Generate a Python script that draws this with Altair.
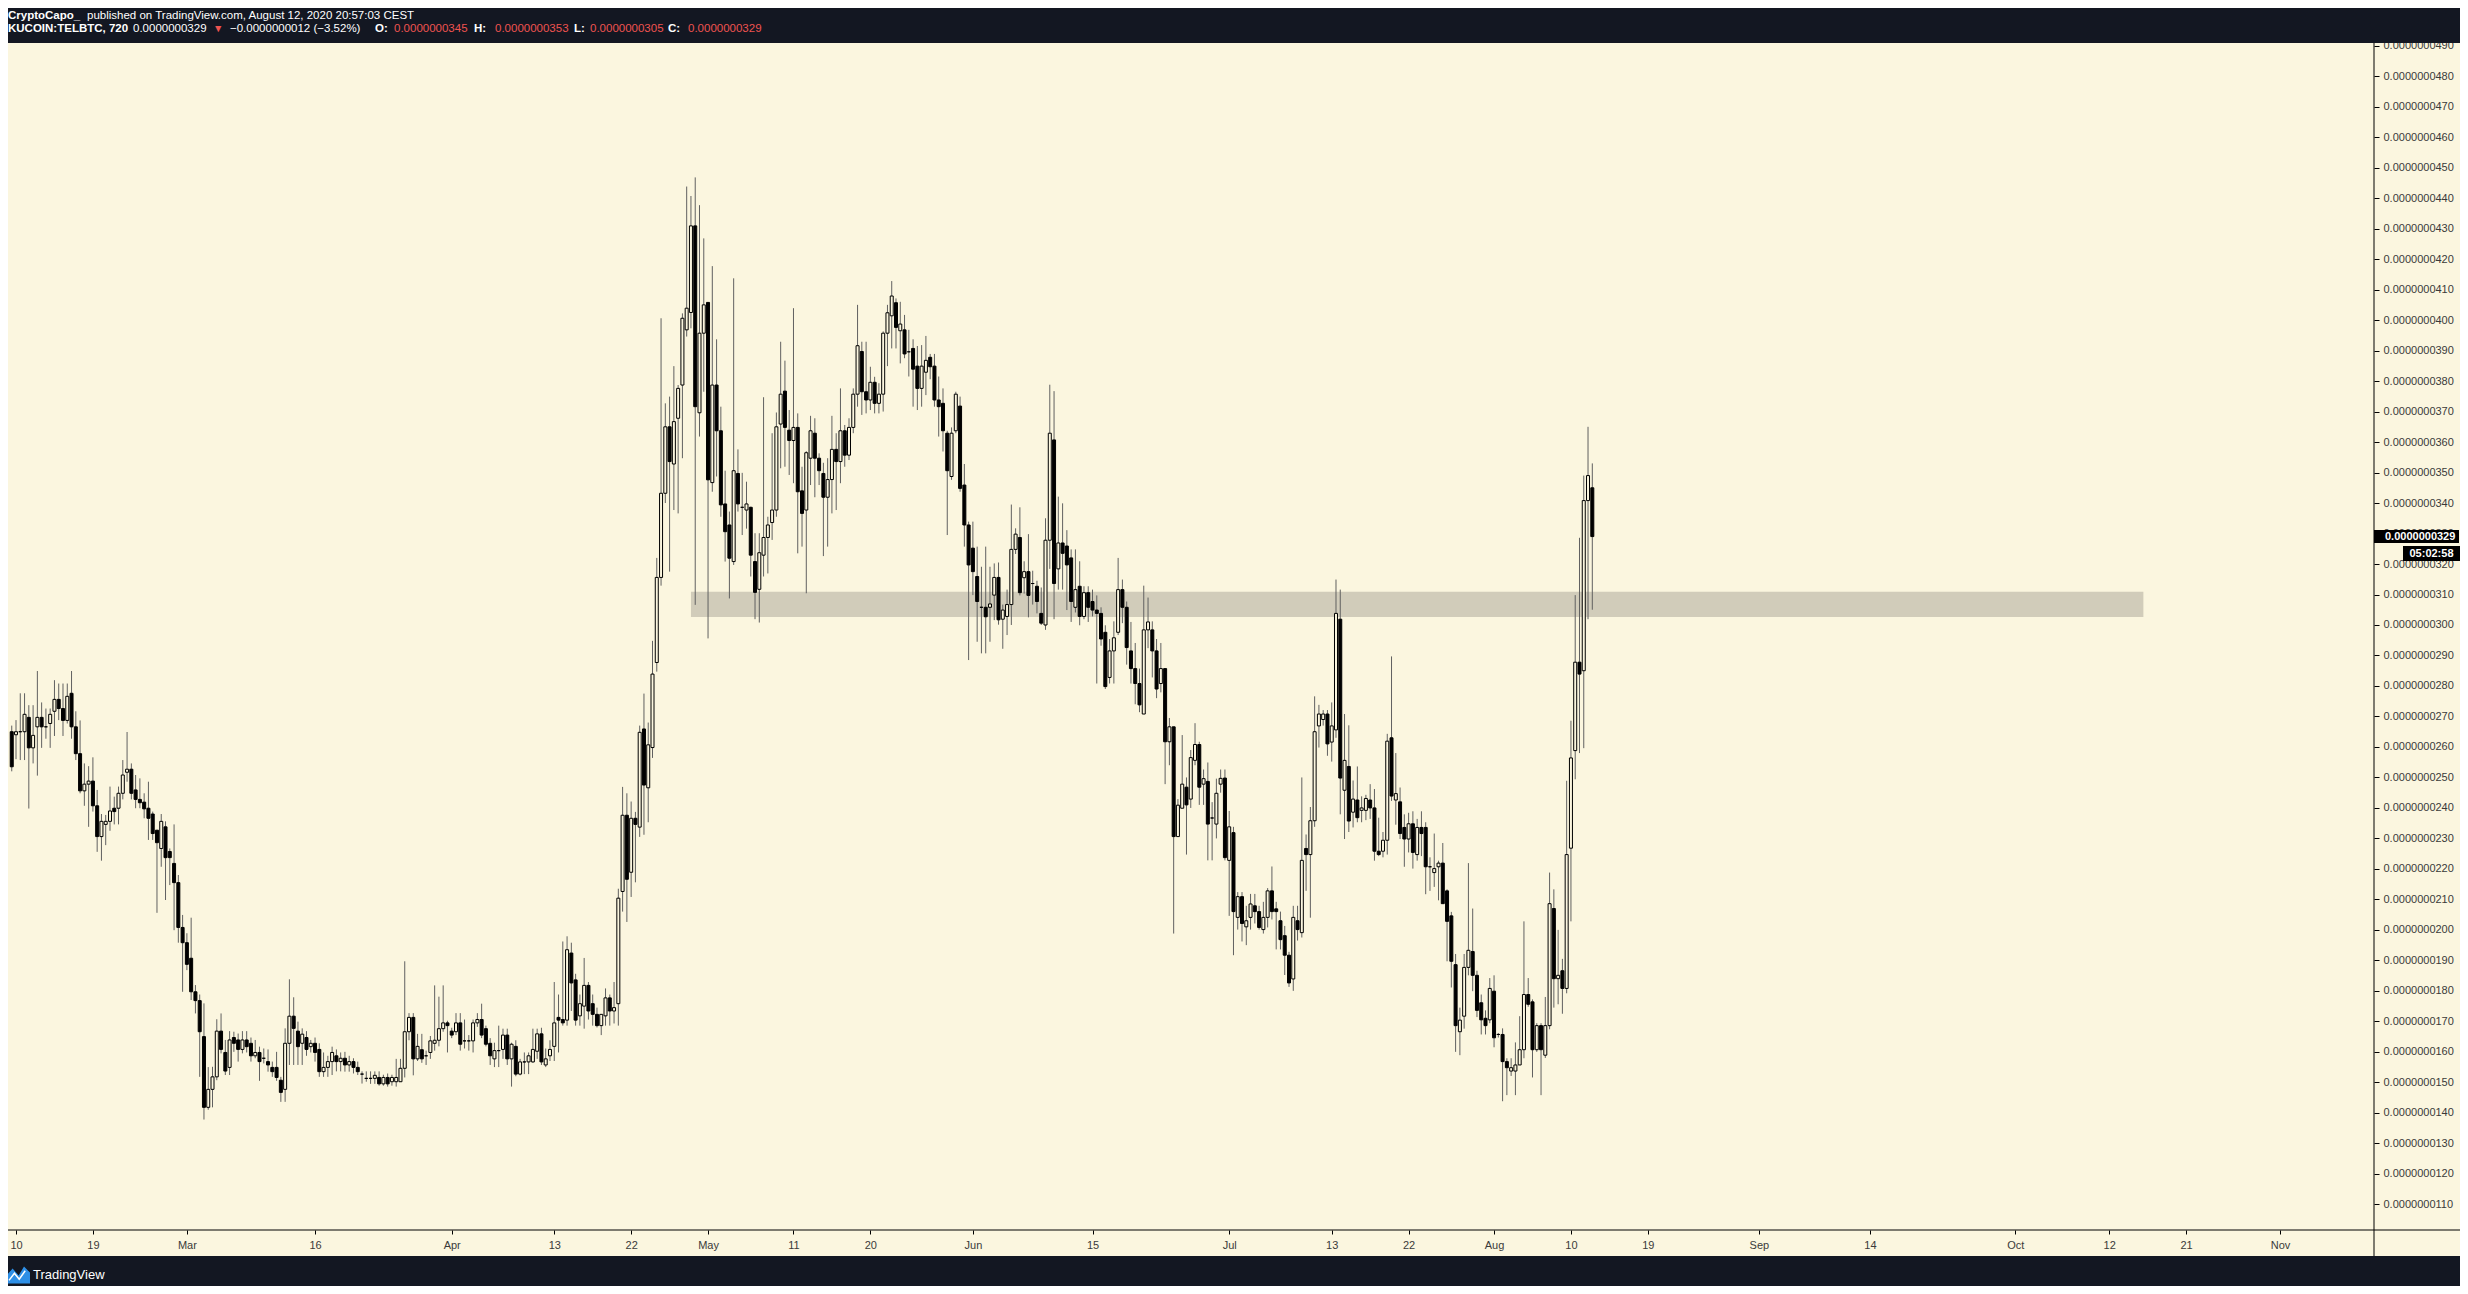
import altair as alt
import pandas as pd

# ---------------- data (prices in units of 1e-10 BTC) ----------------
candle_start = "2020-02-09 12:00"   # first 12h candle
candle_freq = "12h"

opens = [
    265, 264, 265, 265, 269.7, 259.7, 266.6, 269.7, 266.6, 267.7,
    271.7, 275.6, 272.6, 268.7, 277.6, 266.6, 257.8, 245.6, 247.8, 248.8,
    240.7, 230.6, 234.6, 235.6, 239.9, 239.9, 244.8, 251.7, 252.7, 245.9,
    242.8, 241.9, 239.9, 238, 232.7, 226.7, 233.8, 225.7, 221.8, 215.5,
    200.8, 195.8, 190.7, 179.7, 176.8, 165, 141.8, 147.7, 151.8, 166.8,
    159.8, 154.9, 164.7, 163.9, 160.8, 163.9, 162.8, 158.7, 159.8, 157.9,
    156.8, 154.9, 154.9, 150.7, 147.7, 162.8, 171.7, 166.8, 162.8, 164.7,
    161.7, 162.8, 160.8, 153.5, 154.9, 156.8, 158.7, 156.8, 157.9, 155.7,
    156.8, 154.9, 152.7, 151.3, 151.3, 151.3, 151.6, 149.5, 151.6, 150.2,
    150.2, 150.2, 154.6, 166.6, 171.3, 157.7, 160.7, 158.7, 159.8, 162.8,
    163.8, 167.6, 169.5, 166.8, 166.6, 169.5, 163.6, 163.6, 163.6, 169.5,
    170.6, 167.6, 162.8, 157.7, 160.4, 160.8, 165.5, 157.7, 161.8, 152.7,
    156.7, 156.7, 156.7, 160.2, 165.9, 155.7, 158.7, 161.8, 171.3, 170.6,
    170.4, 192.4, 183.6, 171.8, 175.0, 181.8, 175.8, 172.3, 168.6, 171.8,
    177.7, 173.4, 175.8, 212.6, 237.6, 218.9, 236.6, 233.7, 265.9, 246.6,
    259.8, 287.7, 315.6, 343.2, 365.0, 352.8, 367.8, 378.7, 396.8, 402.5,
    430.9, 369.6, 395.7, 405.8, 346.7, 378.7, 363.7, 339.7, 332.8, 320.8,
    349.7, 338.6, 337.7, 338.6, 320.8, 311.7, 322.9, 328.7, 333.6, 337.7,
    365.9, 376.7, 363.9, 360.5, 364.8, 344.0, 337.7, 354.7, 362.9, 354.7,
    349.7, 341.9, 347.7, 357.6, 353.6, 363.7, 355.7, 364.8, 375.7, 389.7,
    376.5, 373.8, 379.6, 372.7, 375.7, 395.7, 401.4, 405.7, 396.5, 396.8,
    389.6, 390.7, 384.9, 377.6, 382.9, 387.8, 384.9, 373.8, 372.7, 362.9,
    348.7, 363.7, 371.8, 345.9, 332.8, 325.2, 315.9, 305.8, 305.8, 305.8,
    309.8, 315.6, 301.9, 302.8, 306.7, 324.8, 328.7, 315.5, 317.5, 313.6,
    312.7, 303.8, 300.0, 327.8, 360.7, 318.4, 326.9, 325.9, 322.0, 305.8,
    312.7, 302.8, 310.6, 307.7, 304.9, 303.8, 297.6, 282.8, 291.5, 297.6,
    311.6, 305.8, 291.5, 285.7, 280.8, 270.8, 298.4, 298.4, 291.5, 280.8,
    285.7, 261.7, 266.6, 230.6, 239.9, 246.8, 242.9, 255.6, 260.8, 247.8,
    248.7, 236.7, 234.7, 247.8, 249.8, 222.8, 231.9, 204.1, 210.9, 201.0,
    204.1, 207.9, 206.0, 200.1, 204.1, 212.8, 206.9, 203.0, 198.1, 191.7,
    183.9, 203.0, 199.1, 226.7, 224.7, 235.8, 266.9, 269.0, 270.8, 261.6,
    265.6, 301.9, 245.8, 253.6, 238.6, 242.6, 239.2, 239.2, 242.6, 240.0,
    225.8, 225.8, 229.4, 263.0, 242.6, 242.0, 233.6, 229.8, 234.8, 224.7,
    233.6, 233.6, 220.7, 218.8, 220.7, 221.9, 212.8, 204.6, 188.6, 166.6,
    171.7, 187.7, 192.9, 185.1, 176.1, 171.0, 170.5, 179.9, 165.7, 165.7,
    156.8, 153.7, 153.7, 155.7, 160.7, 178.8, 176.4, 160.7, 168.6, 158.9,
    168.6, 207.0, 184.0, 186.6, 180.8, 226.8, 258.8, 287.8, 285.0, 340.8,
    345.0,
]

highs = [
    267, 268.8, 277.6, 277.6, 273.7, 273.7, 284.9, 274.6, 272.6, 272.6,
    281.9, 280.8, 280.8, 280.8, 284.9, 271.7, 268.7, 254.6, 253.7, 256.6,
    245.9, 238, 237.7, 247, 243.7, 247, 255.7, 264.9, 254.6, 250.8,
    249.7, 244.8, 248.6, 238.8, 232.7, 238, 235.6, 226.7, 234.6, 218,
    204.9, 198.9, 204, 181.9, 178.8, 175.9, 155, 155.1, 170.7, 172.6,
    163.9, 166.8, 166.6, 166, 166.8, 166.8, 164.7, 163.9, 161.7, 161.1,
    160.8, 156.8, 160, 151.8, 167.7, 183.8, 177.9, 169.9, 167.7, 166.8,
    163.9, 164.7, 162.8, 159.8, 158.7, 161.7, 160.8, 159.8, 160, 158.7,
    157.9, 156.8, 153.6, 153.6, 153.6, 153.6, 153.6, 152.5, 152.9, 152.5,
    157.7, 157.7, 189.7, 172.7, 172.7, 165.9, 165.9, 160.4, 165.2, 181.8,
    178.1, 181.8, 170.2, 167.9, 172.7, 172.7, 170.6, 165.5, 170.6, 172.7,
    175.8, 168.6, 164.5, 163.0, 168.6, 167.6, 167.6, 163.0, 163.8, 157.7,
    159.8, 159.8, 167.6, 167.6, 167.9, 161.1, 163.8, 182.9, 178.8, 196.2,
    197.9, 195.8, 185.6, 178.8, 190.8, 182.9, 178.8, 174.5, 172.3, 180.8,
    178.8, 182.9, 213.5, 246.9, 244.8, 242.1, 238.7, 267.0, 277.5, 268.0,
    294.8, 322.0, 400.6, 372.7, 374.9, 384.9, 378.7, 402.2, 443.8, 440.7,
    446.8, 437.7, 426.8, 405.8, 417.7, 393.7, 371.6, 350.6, 337.2, 413.7,
    357.6, 349.9, 347.0, 338.8, 330.1, 330.1, 374.7, 335.5, 362.9, 369.7,
    392.9, 386.7, 370.5, 403.9, 369.4, 351.9, 357.0, 368.6, 367.8, 356.3,
    353.2, 354.7, 368.6, 362.9, 377.6, 365.6, 367.8, 377.6, 405.0, 392.9,
    392.9, 384.7, 381.4, 379.3, 396.3, 405.0, 412.8, 407.1, 406.0, 401.7,
    396.8, 393.7, 391.5, 391.8, 394.8, 388.9, 388.9, 381.5, 377.6, 363.7,
    364.8, 376.5, 374.9, 352.8, 333.9, 333.9, 325.7, 319.1, 325.7, 319.1,
    320.2, 320.5, 306.7, 311.6, 339.5, 331.7, 338.6, 320.9, 329.8, 317.8,
    314.5, 312.3, 335.0, 378.8, 376.7, 342.1, 339.9, 331.1, 324.8, 324.8,
    320.9, 312.7, 312.7, 311.6, 309.7, 305.8, 299.9, 295.4, 301.2, 322.0,
    314.9, 307.7, 301.0, 294.1, 285.7, 312.9, 309.0, 301.2, 295.4, 294.1,
    285.7, 269.5, 266.6, 242.9, 263.9, 250.0, 259.0, 267.8, 261.7, 252.6,
    254.9, 241.9, 249.6, 252.6, 252.6, 239.0, 233.8, 212.4, 212.4, 207.9,
    211.8, 211.8, 207.9, 209.2, 213.7, 220.8, 209.2, 206.0, 201.3, 192.8,
    207.9, 207.9, 250.0, 231.3, 240.3, 276.6, 273.8, 272.1, 272.1, 274.6,
    314.9, 311.6, 270.8, 267.1, 249.0, 253.6, 243.8, 244.3, 247.8, 246.2,
    236.8, 232.1, 264.3, 289.7, 258.0, 246.7, 237.9, 238.4, 238.9, 236.4,
    238.9, 235.3, 223.8, 231.6, 222.7, 228.5, 213.3, 205.9, 192.1, 174.5,
    192.1, 221.9, 207.0, 186.6, 178.8, 173.6, 184.2, 185.1, 166.2, 167.7,
    157.9, 157.9, 163.1, 171.7, 202.8, 184.2, 177.2, 169.4, 169.4, 178.0,
    218.8, 213.3, 200.0, 190.5, 248.9, 268.6, 309.8, 328.6, 349.0, 365.0,
    353.0,
]

lows = [
    252, 256, 255.7, 255.7, 239.8, 254.6, 250.6, 259.7, 262.7, 259.7,
    263.6, 268.8, 263.6, 267.7, 262.7, 255.7, 244.8, 240.7, 233.8, 238.8,
    225.6, 222.7, 227.8, 232.5, 234.6, 234.6, 242.8, 248.6, 242.8, 239.9,
    239.9, 236.6, 229.5, 229.5, 205.6, 220.7, 209.8, 214.7, 199.9, 195.8,
    179.7, 186.8, 177, 172.6, 151.8, 137.8, 141, 141.8, 150.7, 159.5,
    152.4, 152.4, 160, 156.8, 159.5, 159.8, 156.8, 157.9, 150.5, 156.2,
    153.5, 151.8, 150.5, 143.6, 143.6, 155.7, 155.7, 155.7, 155.7, 158.7,
    159.8, 156.8, 151.8, 151.8, 151.8, 152.4, 153.6, 153.6, 153.5, 153.5,
    152.9, 152.4, 149.6, 150.2, 149.5, 149.5, 148.9, 148.9, 148.6, 148.9,
    148.6, 150.2, 151.6, 163.8, 152.3, 157.0, 156.4, 155.7, 157.7, 160.4,
    161.8, 166.6, 159.8, 164.5, 165.5, 160.4, 161.1, 160.4, 159.8, 168.2,
    164.5, 161.8, 155.7, 155.0, 155.0, 157.7, 155.7, 148.6, 152.0, 152.3,
    152.7, 152.7, 156.4, 157.7, 155.7, 155.0, 157.0, 157.0, 159.8, 168.6,
    168.6, 173.4, 168.6, 168.6, 167.6, 170.6, 168.6, 168.0, 165.5, 168.6,
    168.6, 169.3, 168.6, 206.0, 202.6, 210.8, 215.6, 230.5, 231.2, 235.3,
    256.4, 284.7, 312.9, 340.0, 317.5, 337.7, 336.6, 354.7, 394.6, 397.3,
    306.6, 361.8, 376.5, 295.6, 343.7, 348.7, 335.5, 320.8, 308.7, 319.7,
    337.2, 329.5, 331.6, 315.9, 301.9, 300.8, 315.9, 316.9, 327.9, 335.5,
    351.4, 351.9, 349.2, 346.5, 323.5, 325.7, 310.4, 345.9, 341.9, 345.9,
    322.6, 325.7, 336.6, 337.7, 346.5, 351.9, 354.1, 362.9, 371.6, 368.9,
    369.4, 370.5, 369.4, 369.4, 370.0, 384.9, 390.7, 390.7, 385.8, 387.5,
    381.5, 371.6, 370.5, 371.6, 375.4, 380.6, 371.6, 361.8, 356.9, 329.5,
    347.6, 362.9, 343.7, 325.7, 288.5, 309.8, 294.5, 290.7, 290.7, 294.5,
    301.6, 300.1, 292.2, 296.7, 300.0, 323.3, 309.7, 310.3, 302.5, 306.7,
    303.8, 300.0, 298.4, 318.4, 301.9, 311.6, 311.6, 304.9, 301.0, 304.1,
    299.9, 301.9, 301.0, 302.8, 280.8, 293.2, 279.0, 280.8, 280.8, 296.7,
    300.6, 287.0, 280.8, 274.0, 271.4, 270.8, 292.4, 282.8, 276.0, 277.9,
    247.8, 254.0, 198.8, 230.6, 239.9, 224.7, 240.0, 254.0, 241.0, 241.0,
    222.8, 222.8, 230.0, 245.0, 222.8, 204.6, 191.7, 200.1, 196.2, 195.0,
    200.1, 202.1, 200.1, 198.8, 200.8, 203.4, 193.6, 193.6, 185.2, 181.3,
    180.0, 196.5, 197.5, 212.8, 204.0, 233.8, 259.8, 267.0, 257.1, 255.2,
    263.0, 237.9, 229.8, 232.1, 233.6, 235.3, 235.3, 236.0, 236.4, 222.7,
    224.2, 223.8, 224.7, 242.3, 234.5, 229.8, 220.7, 225.4, 220.1, 222.7,
    224.2, 211.7, 212.8, 214.1, 209.7, 208.6, 189.7, 181.1, 160.0, 158.9,
    167.6, 185.1, 179.9, 171.4, 165.7, 165.7, 169.4, 161.5, 164.7, 143.8,
    145.8, 152.1, 145.8, 155.7, 157.9, 174.8, 151.6, 160.0, 145.8, 158.0,
    167.4, 174.5, 175.6, 172.5, 179.2, 202.8, 249.4, 258.0, 259.6, 301.9,
    305.0,
]

closes = [
    253.5, 265, 265, 270.7, 259.7, 263.8, 269.7, 266.6, 266.6, 270.7,
    275.6, 272.6, 268.7, 276.6, 266.6, 257.8, 245.6, 247.8, 248.8, 240.7,
    230.6, 235.6, 235.6, 239, 238.8, 244.8, 250.8, 252.7, 244.8, 242.8,
    241.7, 239.7, 236.6, 231.6, 228.6, 235.6, 223.7, 223.7, 215.5, 200.8,
    195.8, 188.7, 179.7, 176.8, 166.6, 141.8, 147.7, 151.8, 166.8, 160.8,
    153.7, 163.9, 162.8, 160.8, 163.9, 161.7, 158.7, 159.8, 156.8, 157.9,
    155.7, 153.5, 151.6, 146.7, 162.8, 171.7, 167.7, 161.7, 165.8, 160.8,
    162.8, 159.8, 153.5, 154.9, 156.8, 159.8, 156.8, 157.9, 155.7, 156.8,
    154.9, 153.5, 152.7, 151.3, 151.3, 152.3, 149.5, 151.6, 149.5, 151.6,
    151.6, 154.6, 166.6, 171.3, 157.7, 161.8, 157.7, 158.7, 163.6, 163.8,
    167.6, 169.5, 168.6, 165.5, 169.5, 162.5, 163.6, 163.6, 169.5, 170.6,
    165.5, 162.5, 158.7, 160.4, 160.4, 165.5, 157.7, 162.5, 152.7, 156.7,
    156.7, 158.7, 160.8, 165.9, 156.7, 157.7, 160.8, 169.5, 170.4, 169.5,
    193.5, 182.6, 170.4, 175.8, 181.8, 173.4, 172.3, 168.6, 172.3, 177.7,
    173.4, 174.5, 210.4, 237.6, 216.6, 236.6, 234.6, 264.8, 247.5, 260.7,
    283.9, 315.6, 343.2, 365.0, 353.6, 366.7, 377.6, 400.6, 403.9, 430.9,
    371.6, 395.7, 405.0, 347.6, 378.7, 363.7, 339.4, 330.6, 321.9, 350.6,
    339.7, 338.6, 339.7, 322.9, 310.7, 323.7, 328.7, 332.8, 337.7, 365.0,
    375.7, 364.8, 360.5, 364.8, 343.7, 336.6, 356.5, 363.7, 354.7, 350.6,
    341.9, 347.7, 357.6, 353.6, 363.7, 355.7, 364.8, 375.7, 391.6, 376.5,
    373.8, 379.6, 372.7, 375.7, 395.7, 402.4, 407.9, 397.6, 398.7, 388.9,
    389.6, 383.9, 377.6, 384.9, 386.8, 384.7, 373.8, 371.6, 363.7, 350.6,
    362.9, 375.7, 344.8, 332.8, 319.7, 317.5, 307.7, 305.8, 302.7, 306.9,
    315.6, 301.7, 304.9, 306.7, 324.8, 329.8, 310.6, 317.5, 309.7, 313.6,
    307.7, 300.6, 327.8, 362.9, 313.6, 326.9, 323.5, 319.7, 307.7, 311.6,
    302.8, 310.6, 305.8, 304.9, 303.8, 295.4, 279.8, 291.5, 295.8, 311.6,
    305.8, 292.6, 285.7, 280.8, 273.8, 298.4, 301.0, 291.5, 279.0, 285.7,
    261.7, 266.6, 230.6, 240.9, 247.8, 241.0, 256.5, 260.8, 246.8, 249.6,
    234.7, 236.7, 244.8, 249.7, 223.7, 233.8, 206.0, 210.9, 202.1, 203.0,
    208.5, 206.0, 200.8, 204.1, 212.8, 206.0, 206.0, 196.8, 191.7, 182.6,
    204.1, 200.1, 222.8, 224.7, 235.8, 265.0, 270.8, 270.8, 261.0, 266.9,
    303.8, 249.8, 255.6, 235.7, 242.9, 236.8, 240.0, 243.1, 240.0, 225.8,
    224.7, 229.4, 261.9, 243.9, 244.7, 231.6, 229.8, 234.8, 225.4, 233.6,
    231.6, 220.7, 220.7, 220.1, 221.9, 208.6, 202.8, 189.7, 168.6, 170.4,
    187.7, 193.3, 185.1, 173.6, 170.5, 168.6, 180.8, 164.6, 165.7, 156.8,
    154.8, 154.8, 155.7, 160.7, 178.8, 175.6, 160.7, 168.6, 160.7, 168.6,
    208.6, 184.0, 185.1, 180.8, 224.7, 256.4, 287.8, 283.9, 340.8, 349.0,
    329.0,
]

# support / resistance zone
zone_start = "2020-04-29"
zone_end = "2020-10-16"
zone_low = 302.6
zone_high = 310.9

last_price = 329.0
countdown = "05:02:58"

# axis ticks
x_tick_dates = ["2020-02-10", "2020-02-19", "2020-03-01", "2020-03-16", "2020-04-01",
                "2020-04-13", "2020-04-22", "2020-05-01", "2020-05-11", "2020-05-20",
                "2020-06-01", "2020-06-15", "2020-07-01", "2020-07-13", "2020-07-22",
                "2020-08-01", "2020-08-10", "2020-08-19", "2020-09-01", "2020-09-14",
                "2020-10-01", "2020-10-12", "2020-10-21", "2020-11-01"]
x_tick_labels = ["10", "19", "Mar", "16", "Apr", "13", "22", "May", "11", "20",
                 "Jun", "15", "Jul", "13", "22", "Aug", "10", "19", "Sep", "14",
                 "Oct", "12", "21", "Nov"]
y_tick_units = [110, 120, 130, 140, 150, 160, 170, 180, 190, 200,
                210, 220, 230, 240, 250, 260, 270, 280, 290, 300,
                310, 320, 330, 340, 350, 360, 370, 380, 390, 400,
                410, 420, 430, 440, 450, 460, 470, 480, 490]

# ---------------- styling / layout ----------------
CREAM = "#FBF6DF"
DARK = "#131722"
WICK = "#606060"
RED = "#EF5350"
AXTXT = "#3a3a3a"
FONT = "Liberation Sans"
UNIT = 1e-10

PW, PH = 2366, 1187          # plot area
RIGHT_AX, BOTTOM_AX = 86, 26
DAY_MIN, DAY_MAX = 8.648, 284.41
Y_MIN, Y_MAX = 101.57, 490.88

n = len(closes)
assert len(opens) == n and len(highs) == n and len(lows) == n

day0 = pd.Timestamp("2020-02-01")
times = pd.date_range(candle_start, periods=n, freq=candle_freq)
days = [(t - day0) / pd.Timedelta(days=1) for t in times]

df = pd.DataFrame({
    "day": days,
    "open": [o * UNIT for o in opens],
    "close": [c * UNIT for c in closes],
    "high": [max(h, o, c) * UNIT for h, o, c in zip(highs, opens, closes)],
    "low": [min(l, o, c) * UNIT for l, o, c in zip(lows, opens, closes)],
})

tick_days = [int((pd.Timestamp(d) - day0) / pd.Timedelta(days=1)) for d in x_tick_dates]
label_expr = " : ".join(f"datum.value == {v} ? '{l}'" for v, l in zip(tick_days, x_tick_labels)) + " : ''"

xscale = alt.Scale(domain=[DAY_MIN, DAY_MAX], nice=False, zero=False)
yscale = alt.Scale(domain=[Y_MIN * UNIT, Y_MAX * UNIT], nice=False, zero=False)

xaxis = alt.Axis(values=tick_days, labelExpr=label_expr, orient="bottom", domain=False,
                 ticks=True, tickSize=4, tickColor="#000000", tickWidth=1,
                 labelColor=AXTXT, labelFont=FONT, labelFontSize=11, labelPadding=5,
                 grid=False, title=None, labelFlush=False, labelOverlap=False)
yaxis = alt.Axis(values=[v * UNIT for v in y_tick_units], format=".10f", orient="right",
                 domain=False, ticks=True, tickSize=5, tickColor="#000000", tickWidth=1,
                 labelColor=AXTXT, labelFont=FONT, labelFontSize=11, labelPadding=4,
                 grid=False, title=None, labelFlush=False, labelOverlap=False)

X = lambda f: alt.X(f, type="quantitative", scale=xscale, axis=xaxis)
Y = lambda f: alt.Y(f, type="quantitative", scale=yscale, axis=yaxis)

base = alt.Chart(df)

wicks = base.mark_rule(color=WICK, strokeWidth=1, clip=True).encode(
    x=X("day"), y=Y("low"), y2="high")

bodies = base.mark_bar(size=3, stroke="#000000", strokeWidth=1, clip=True).encode(
    x=X("day"), y=Y("open"), y2="close",
    fill=alt.condition("datum.close >= datum.open", alt.value(CREAM), alt.value("#000000")))

zone_df = pd.DataFrame({
    "x1": [(pd.Timestamp(zone_start) - day0) / pd.Timedelta(days=1)],
    "x2": [(pd.Timestamp(zone_end) - day0) / pd.Timedelta(days=1)],
    "y1": [zone_low * UNIT], "y2": [zone_high * UNIT]})
zone = alt.Chart(zone_df).mark_rect(color="#78736E", opacity=0.32, clip=True).encode(
    x=X("x1"), x2="x2", y=Y("y1"), y2="y2")

ONE = pd.DataFrame({"k": [0]})


def panel(x1, x2, y1, y2, color):
    return alt.Chart(ONE).mark_rect(color=color).encode(
        x=alt.value(x1), x2=alt.value(x2), y=alt.value(y1), y2=alt.value(y2))


def txt(text, x, y, color="#FFFFFF", bold=False, size=11.5, align="left"):
    return alt.Chart(ONE).mark_text(
        text=text, align=align, baseline="middle", fontSize=size,
        fontWeight="bold" if bold else "normal", color=color, font=FONT).encode(
        x=alt.value(x), y=alt.value(y))


header_bg = panel(0, PW + RIGHT_AX, -40, 0, DARK)
footer_bg = panel(0, PW + RIGHT_AX, PH + BOTTOM_AX, PH + 80, DARK)

vline = alt.Chart(ONE).mark_rule(color="#000000", strokeWidth=1).encode(
    x=alt.value(PW), y=alt.value(0), y2=alt.value(PH + BOTTOM_AX))
hline = alt.Chart(ONE).mark_rule(color="#000000", strokeWidth=1).encode(
    x=alt.value(0), x2=alt.value(PW + RIGHT_AX), y=alt.value(PH))

# last price marker on the price scale
price_df = pd.DataFrame({"price": [last_price * UNIT]})
price_box = alt.Chart(price_df).mark_point(
    shape="M-1,-0.153H1V0.153H-1Z", size=85 ** 2, filled=True, color="#000000",
    opacity=1, strokeWidth=0).encode(x=alt.value(PW + 42.5), y=Y("price"))
price_txt = alt.Chart(price_df).mark_text(
    text=f"{last_price * UNIT:.10f}", align="left", baseline="middle", fontSize=11,
    fontWeight="bold", color="#FFFFFF", font=FONT).encode(x=alt.value(PW + 11), y=Y("price"))
timer_box = alt.Chart(price_df).mark_point(
    shape="M-1,-0.263H1V0.263H-1Z", size=57 ** 2, filled=True, color="#000000",
    opacity=1, strokeWidth=0, yOffset=17).encode(x=alt.value(PW + 57.5), y=Y("price"))
timer_txt = alt.Chart(price_df).mark_text(
    text=countdown, align="center", baseline="middle", fontSize=11, fontWeight="bold",
    color="#FFFFFF", font=FONT, yOffset=17).encode(x=alt.value(PW + 57.5), y=Y("price"))

# header texts
L1, L2 = -27, -14
header = [
    txt("CryptoCapo_", 0, L1, bold=True),
    txt("published on TradingView.com, August 12, 2020 20:57:03 CEST", 79, L1),
    txt("KUCOIN:TELBTC, 720", 0, L2, bold=True),
    txt("0.0000000329", 125, L2),
    txt("\u25BC", 205, L2, color=RED, size=10.5),
    txt("\u22120.0000000012 (\u22123.52%)", 222, L2),
    txt("O:", 367, L2, bold=True), txt("0.0000000345", 386, L2, color=RED),
    txt("H:", 466, L2, bold=True), txt("0.0000000353", 487, L2, color=RED),
    txt("L:", 566, L2, bold=True), txt("0.0000000305", 582, L2, color=RED),
    txt("C:", 660, L2, bold=True), txt("0.0000000329", 680, L2, color=RED),
]

# footer logo
logo = alt.Chart(ONE).mark_point(
    shape="M-1,0.7 L-1,0.1 L-0.45,-0.55 L0.05,0.05 L0.5,-0.7 L1,-0.2 L1,0.7 Z",
    size=24 ** 2, filled=True, color="#2E8FE6", opacity=1, strokeWidth=0).encode(
    x=alt.value(10), y=alt.value(PH + 45))
logo_line = alt.Chart(ONE).mark_point(
    shape="M-0.75,0.45 L-0.3,-0.15 L0.1,0.35 L0.6,-0.35",
    size=24 ** 2, filled=False, color="#FFFFFF", opacity=1, strokeWidth=1.5).encode(
    x=alt.value(10), y=alt.value(PH + 45))
footer_txt = txt("TradingView", 25, PH + 45, size=13)

chart = alt.layer(
    zone, wicks, bodies, header_bg, footer_bg, vline, hline,
    price_box, price_txt, timer_box, timer_txt,
    *header, logo, logo_line, footer_txt,
).properties(
    width=PW, height=PH,
    autosize=alt.AutoSizeParams(type="none"),
    padding={"left": 0, "top": 35, "right": RIGHT_AX, "bottom": 56},
    background=CREAM,
).configure_view(fill=CREAM, stroke=None)

chart.save("out.html", embed_options={"renderer": "svg", "actions": False})
